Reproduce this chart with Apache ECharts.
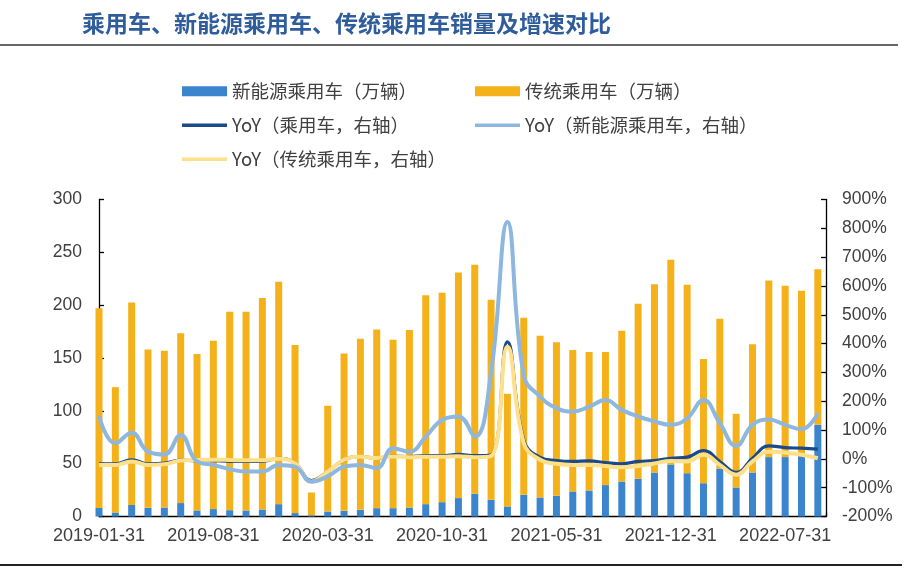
<!DOCTYPE html>
<html><head><meta charset="utf-8">
<script src="https://cdn.jsdelivr.net/npm/echarts@6/dist/echarts.min.js"></script>
<style>html,body{margin:0;padding:0;background:#fff}#c{width:922px;height:576px}</style>
</head><body><div id="c"></div>
<script>
// Monthly categories 2019-01 .. 2022-09
const months = [
  '2019-01','2019-02','2019-03','2019-04','2019-05','2019-06','2019-07','2019-08','2019-09','2019-10','2019-11','2019-12',
  '2020-01','2020-02','2020-03','2020-04','2020-05','2020-06','2020-07','2020-08','2020-09','2020-10','2020-11','2020-12',
  '2021-01','2021-02','2021-03','2021-04','2021-05','2021-06','2021-07','2021-08','2021-09','2021-10','2021-11','2021-12',
  '2022-01','2022-02','2022-03','2022-04','2022-05','2022-06','2022-07','2022-08','2022-09'
];
const tickLabels = ['2019-01-31','2019-08-31','2020-03-31','2020-10-31','2021-05-31','2021-12-31','2022-07-31'];

// 新能源乘用车（万辆）
const nevSales = [
  8, 3.8, 11, 8.2, 8.5, 12.7, 5.7, 7, 6, 5.7, 6.6, 11.7,
  3.2, 1.2, 4.7, 5.4, 6.3, 7.9, 7.9, 8.5, 11.7, 13.6, 17.4, 21.5,
  15.8, 9.5, 20.5, 18, 19.6, 23.7, 24.6, 29.7, 33.1, 35.7, 41.6, 49.3,
  41, 31.5, 45.4, 27.5, 41.6, 56.2, 56.2, 57.8, 86.8
];
// 传统乘用车（万辆）
const iceSales = [
  189, 118.6, 191.5, 149.9, 148.3, 160.8, 148, 159.3, 187.7, 188, 200.1, 210.4,
  159.2, 21.5, 100.1, 148.9, 161.9, 169.1, 159.3, 167.9, 197.8, 198.1, 213.6, 216.7,
  189.3, 106.6, 167.5, 153, 145.4, 133.8, 131, 125.9, 142.6, 165.6, 178.3, 193.7,
  178.3, 117.5, 141.7, 69.7, 121.5, 167.1, 162.1, 155.8, 147.3
];
// YoY（乘用车，右轴）%
const yoyTotal = [
  -17, -17, -3, -17, -15, -4, -6, -6, -9, -9, -9, 2,
  -15, -75, -44, -4, 8, 2, 10, 8, 11, 11, 16, 11,
  14, 406, 66, 5, -6, -9, -7, -13, -17, -9, -6, 2,
  6, 29, -9, -47, 2, 45, 39, 37, 34
];
// YoY（新能源乘用车，右轴）%
const yoyNev = [
  150, 54, 91, 25, 15, 83, -9, -21, -36, -44, -44, -21,
  -27, -79, -61, -27, -21, -32, 37, 25, 77, 135, 147, 77,
  300, 822, 290, 216, 176, 164, 181, 204, 170, 147, 130, 118,
  141, 204, 124, 45, 118, 137, 118, 103, 158
];
// YoY（传统乘用车，右轴）%
const yoyIce = [
  -21, -21, -9, -21, -19, -6, -4, -3, -4, -5, -5, 0,
  -16, -79, -44, -3, 7, 3, 8, 6, 7, 7, 9, 6,
  10, 389, 55, -3, -17, -21, -21, -25, -29, -25, -16, -7,
  -9, 14, -21, -55, -9, 25, 22, 14, 2
];

const names = ['新能源乘用车（万辆）','传统乘用车（万辆）','YoY（乘用车，右轴）','YoY（新能源乘用车，右轴）','YoY（传统乘用车，右轴）'];
const colors = ['#3A85CD','#F5B11A','#1B4A8A','#8DB7DF','#FFE08A'];

// value first, month index second (so the stack is computed on the value dimension)
const pairs = arr => arr.map((v, i) => [v, i]);
const enc = { x: 1, y: 0 };
const labelFont = 'Liberation Sans';
const cjkFont = 'Noto Sans CJK SC';

const legendBase = {
  icon: 'rect', itemWidth: 45, orient: 'horizontal', padding: 0,
  itemStyle: { borderWidth: 0 },
  textStyle: { fontSize: 18.5, color: '#404040', fontFamily: cjkFont }
};

const chart = echarts.init(document.getElementById('c'), null, { renderer: 'canvas' });
chart.setOption({
  animation: false,
  backgroundColor: '#fff',
  title: {
    text: '乘用车、新能源乘用车、传统乘用车销量及增速对比',
    left: 82, top: 12, padding: 0,
    textStyle: { fontSize: 23, fontWeight: 'bold', color: '#2F5C9B', fontFamily: cjkFont }
  },
  graphic: [
    { type: 'line', shape: { x1: 0, y1: 45, x2: 898, y2: 45 }, style: { stroke: '#333', lineWidth: 1.5 } },
    { type: 'line', shape: { x1: 0, y1: 565, x2: 902, y2: 565 }, style: { stroke: '#222', lineWidth: 2 } }
  ],
  legend: [
    Object.assign({}, legendBase, { data: [names[0]], left: 182, top: 82, itemHeight: 10 }),
    Object.assign({}, legendBase, { data: [names[1]], left: 475, top: 82, itemHeight: 10 }),
    Object.assign({}, legendBase, { data: [names[2]], left: 182, top: 116, itemHeight: 3.5 }),
    Object.assign({}, legendBase, { data: [names[3]], left: 475, top: 116, itemHeight: 3.5 }),
    Object.assign({}, legendBase, { data: [names[4]], left: 182, top: 150, itemHeight: 3.5 })
  ],
  grid: { left: 99, right: 96, top: 199.5, bottom: 59.5, outerBoundsMode: 'none', containLabel: false },
  xAxis: {
    type: 'value', min: 0, max: 44.5, interval: 7,
    axisLine: { show: true, onZero: false, lineStyle: { color: '#000', width: 1.3 } },
    axisTick: { show: true, inside: true, length: 4, lineStyle: { color: '#000', width: 1.3 } },
    splitLine: { show: false },
    axisLabel: {
      color: '#404040', fontSize: 18, fontFamily: labelFont, margin: 11,
      formatter: v => {
        const i = Math.round(v);
        if (Math.abs(v - i) > 1e-6 || i % 7 !== 0) return '';
        return tickLabels[i / 7] || '';
      }
    }
  },
  yAxis: [
    {
      type: 'value', min: 0, max: 300, interval: 50, position: 'left',
      axisLine: { show: true, lineStyle: { color: '#000', width: 1.3 } },
      axisTick: { show: true, inside: true, length: 5, lineStyle: { color: '#000', width: 1.3 } },
      splitLine: { show: false },
      axisLabel: { color: '#404040', fontSize: 17.5, fontFamily: labelFont, margin: 17 }
    },
    {
      type: 'value', min: -200, max: 900, interval: 100, position: 'right',
      axisLine: { show: true, lineStyle: { color: '#000', width: 1.3 } },
      axisTick: { show: true, inside: true, length: 5, lineStyle: { color: '#000', width: 1.3 } },
      splitLine: { show: false },
      axisLabel: { color: '#404040', fontSize: 17.5, fontFamily: labelFont, margin: 16, formatter: '{value}%' }
    }
  ],
  series: [
    { name: names[0], type: 'bar', stack: 'sales', barWidth: 7, yAxisIndex: 0, encode: enc,
      itemStyle: { color: colors[0] }, data: pairs(nevSales) },
    { name: names[1], type: 'bar', stack: 'sales', barWidth: 7, yAxisIndex: 0, encode: enc,
      itemStyle: { color: colors[1] }, data: pairs(iceSales) },
    { name: names[2], type: 'line', yAxisIndex: 1, smooth: 0.45, showSymbol: false, symbol: 'none', encode: enc,
      lineStyle: { color: colors[2], width: 3.2 }, itemStyle: { color: colors[2] }, data: pairs(yoyTotal) },
    { name: names[4], type: 'line', yAxisIndex: 1, smooth: 0.45, showSymbol: false, symbol: 'none', encode: enc,
      lineStyle: { color: colors[4], width: 4 }, itemStyle: { color: colors[4] }, data: pairs(yoyIce) },
    { name: names[3], type: 'line', yAxisIndex: 1, smooth: 0.45, showSymbol: false, symbol: 'none', encode: enc,
      lineStyle: { color: colors[3], width: 4 }, itemStyle: { color: colors[3] }, data: pairs(yoyNev) }
  ]
});
</script>
</body></html>
